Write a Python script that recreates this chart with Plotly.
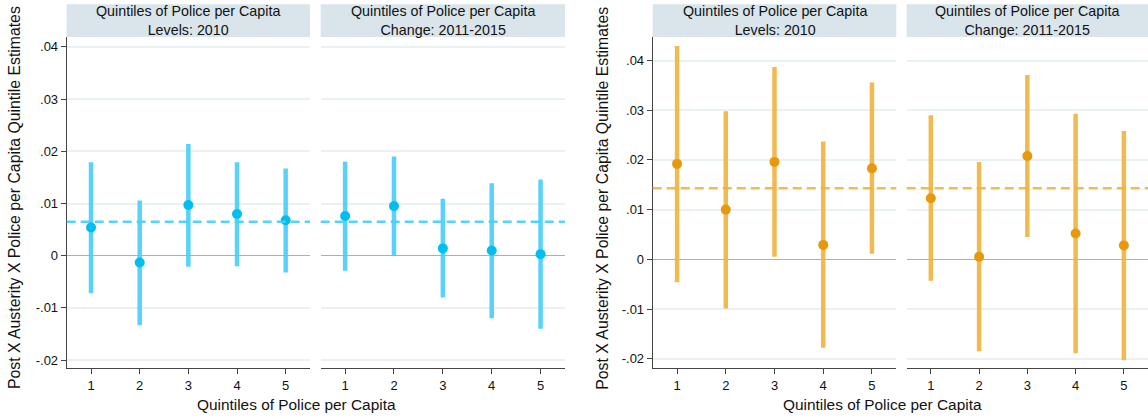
import plotly.graph_objects as go

# Quintile estimates (point, lower CI, upper CI) for each panel
quintiles = [1, 2, 3, 4, 5]

blue_lvl_est = [0.0054, -0.0013, 0.0097, 0.0080, 0.0068]
blue_lvl_lo = [-0.0072, -0.0133, -0.0021, -0.0020, -0.0032]
blue_lvl_hi = [0.0179, 0.0106, 0.0214, 0.0179, 0.0167]

blue_chg_est = [0.0076, 0.0095, 0.0014, 0.0010, 0.0003]
blue_chg_lo = [-0.0029, 0.0000, -0.0080, -0.0120, -0.0140]
blue_chg_hi = [0.0180, 0.0190, 0.0109, 0.0139, 0.0146]

orange_lvl_est = [0.0192, 0.0100, 0.0196, 0.0029, 0.0183]
orange_lvl_lo = [-0.0046, -0.0099, 0.0005, -0.0178, 0.0011]
orange_lvl_hi = [0.0429, 0.0298, 0.0387, 0.0237, 0.0356]

orange_chg_est = [0.0123, 0.0005, 0.0208, 0.0052, 0.0028]
orange_chg_lo = [-0.0043, -0.0185, 0.0045, -0.0189, -0.0203]
orange_chg_hi = [0.0290, 0.0196, 0.0371, 0.0293, 0.0258]

blue_pooled = 0.0065
orange_pooled = 0.0143

strip_titles = ["Quintiles of Police per Capita<br>Levels: 2010",
                "Quintiles of Police per Capita<br>Change: 2011-2015"]
y_title = "Post X Austerity X Police per Capita Quintile Estimates"
x_title = "Quintiles of Police per Capita"
y_tickvals = [-0.02, -0.01, 0, 0.01, 0.02, 0.03, 0.04]
y_ticktext = ["-.02", "-.01", "0", ".01", ".02", ".03", ".04"]

W, H = 1148, 419
FONT = "Liberation Sans, Arial, Helvetica, sans-serif"


def px_x(a, b):
    return [a / W, b / W]


def py(v):
    return 1 - v / H


domains = [px_x(66.7, 310), px_x(320.7, 565), px_x(652.7, 896.3), px_x(906.7, 1148)]
ydom = [py(368.3), py(37)]

panels = [
    (blue_lvl_est, blue_lvl_lo, blue_lvl_hi, "#00BFEF", "rgba(70,205,250,0.9)", blue_pooled),
    (blue_chg_est, blue_chg_lo, blue_chg_hi, "#00BFEF", "rgba(70,205,250,0.9)", blue_pooled),
    (orange_lvl_est, orange_lvl_lo, orange_lvl_hi, "#E8980C", "rgba(240,178,60,0.9)", orange_pooled),
    (orange_chg_est, orange_chg_lo, orange_chg_hi, "#E8980C", "rgba(240,178,60,0.9)", orange_pooled),
]

fig = go.Figure()
shapes = []
annotations = []

for i, (est, lo, hi, mcol, bcol, pooled) in enumerate(panels):
    xa = "x" if i == 0 else f"x{i + 1}"
    ya = "y" if i < 2 else "y2"
    fig.add_trace(go.Scatter(
        x=quintiles, y=est, xaxis=xa, yaxis=ya, mode="markers",
        marker=dict(color=mcol, size=10),
        error_y=dict(type="data", symmetric=False,
                     array=[h - e for h, e in zip(hi, est)],
                     arrayminus=[e - l for e, l in zip(est, lo)],
                     color=bcol, thickness=4.5, width=0),
        showlegend=False, hoverinfo="skip"))
    # pooled estimate reference line
    shapes.append(dict(type="line", xref=f"{xa} domain", yref=ya,
                       x0=0, x1=1, y0=pooled, y1=pooled,
                       line=dict(color=bcol, width=2.5, dash="9px,5px"), layer="above"))
    # strip header
    d = domains[i]
    shapes.append(dict(type="rect", xref="paper", yref="paper",
                       x0=d[0], x1=d[1], y0=py(37), y1=py(4.3),
                       fillcolor="#D9E5EB", line=dict(width=0)))
    annotations.append(dict(xref="paper", yref="paper", x=(d[0] + d[1]) / 2,
                            y=(py(37) + py(4.3)) / 2, text=strip_titles[i % 2],
                            showarrow=False, font=dict(size=14.3, color="#111", family=FONT),
                            xanchor="center", yanchor="middle"))

# axis titles
for cx in (296, 882.5):
    annotations.append(dict(xref="paper", yref="paper", x=cx / W, y=py(404),
                            text=x_title, showarrow=False,
                            font=dict(size=15.4, color="#111", family=FONT),
                            xanchor="center", yanchor="middle"))
for cx in (14, 601.7):
    annotations.append(dict(xref="paper", yref="paper", x=cx / W, y=py(198),
                            text=y_title, showarrow=False, textangle=-90,
                            font=dict(size=15.8, color="#111", family=FONT),
                            xanchor="center", yanchor="middle"))

xcommon = dict(range=[0.5, 5.5], tickvals=quintiles, ticks="outside", ticklen=5,
               tickcolor="#444", showline=True, linecolor="#444", linewidth=1,
               showgrid=False, zeroline=False, fixedrange=True,
               tickfont=dict(size=13, color="#111", family=FONT))
ycommon = dict(tickvals=y_tickvals, ticktext=y_ticktext, ticks="outside", ticklen=5,
               tickcolor="#444", showline=True, linecolor="#444", linewidth=1,
               showgrid=True, gridcolor="#EAF1F3", gridwidth=1.5,
               zeroline=True, zerolinecolor="#AFAFAF", zerolinewidth=1,
               domain=ydom, fixedrange=True,
               tickfont=dict(size=13, color="#111", family=FONT))

fig.update_layout(
    width=W, height=H, margin=dict(l=0, r=0, t=0, b=0),
    paper_bgcolor="white", plot_bgcolor="white",
    xaxis=dict(domain=domains[0], anchor="y", **xcommon),
    xaxis2=dict(domain=domains[1], anchor="y", **xcommon),
    xaxis3=dict(domain=domains[2], anchor="y2", **xcommon),
    xaxis4=dict(domain=domains[3], anchor="y2", **xcommon),
    yaxis=dict(anchor="x", range=[-0.02157, 0.0419], **ycommon),
    yaxis2=dict(anchor="x3", range=[-0.02193, 0.04473], **ycommon),
    shapes=shapes, annotations=annotations,
)

fig.write_html("out.html")
